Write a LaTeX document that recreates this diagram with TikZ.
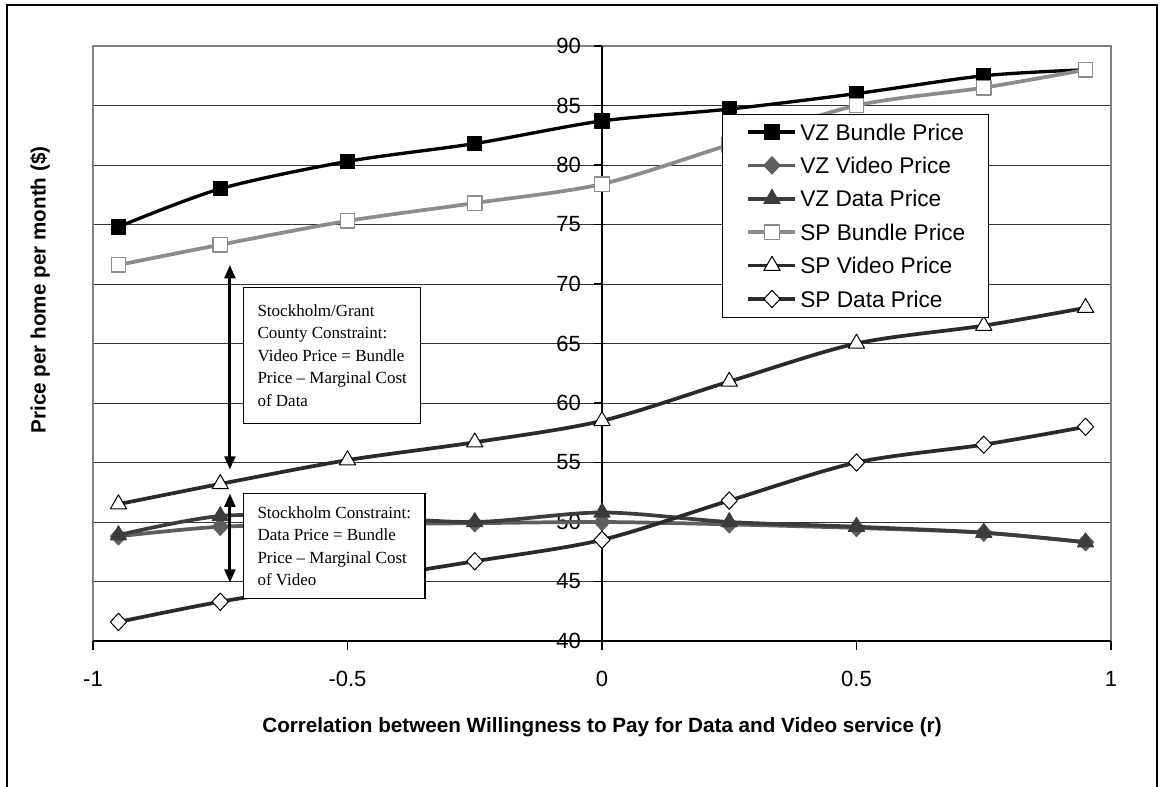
\documentclass[tikz,border=0pt]{standalone}
\usepackage{fontspec}
\setmainfont{Liberation Sans}
\newfontfamily\notefont{Liberation Serif}
\usetikzlibrary{arrows.meta,plotmarks}

\definecolor{vzvideogray}{HTML}{5E5E5E}
\definecolor{vzdatagray}{HTML}{3C3C3C}
\definecolor{spbundlegray}{HTML}{8C8C8C}
\definecolor{spdark}{HTML}{2A2A2A}

\tikzset{
	series/.style={line width=2.8pt, line join=round},
	vzbundle/.style={series, black, line width=2.5pt, mark=square*, mark size=5.4pt, mark options={line width=0.75pt, fill=black}},
	vzvideo/.style={series, vzvideogray, mark=diamond*, mark size=6.5pt, mark options={line width=0.75pt, fill=vzvideogray, xscale=1.25}},
	vzdata/.style={series, vzdatagray, mark=triangle*, mark size=7pt, mark options={line width=0.75pt, fill=vzdatagray}},
	spbundle/.style={series, spbundlegray, mark=square*, mark size=5.4pt, mark options={line width=1pt, fill=white}},
	spvideo/.style={series, spdark, mark=triangle*, mark size=7pt, mark options={line width=0.75pt, draw=black, fill=white}},
	spdata/.style={series, spdark, mark=diamond*, mark size=6.5pt, mark options={line width=0.75pt, draw=black, fill=white, xscale=1.25}},
	gridline/.style={black!80, line width=0.7pt},
	ticklabel/.style={font=\fontsize{16.5}{18}\selectfont, inner sep=0pt},
	keylabel/.style={font=\fontsize{17}{19}\selectfont, anchor=west, inner sep=0pt},
	keybox/.style={draw, fill=white, line width=0.8pt, anchor=north west, minimum width=199.5pt, minimum height=152.25pt},
	notebox/.style={draw, fill=white, line width=0.8pt, anchor=north west, align=left, inner xsep=10.5pt, font=\notefont\fontsize{12.75}{16.9}\selectfont},
	bothway/.style={{Triangle[length=10pt,width=8pt]}-{Triangle[length=10pt,width=8pt]}, line width=2.2pt},
	axistitle/.style={font=\bfseries\fontsize{15.5}{18}\selectfont, inner sep=0pt}
}

\begin{document}
\begin{tikzpicture}[x=0.75pt,y=-0.75pt]
	\useasboundingbox (0,0) rectangle (1160,787);
	\draw[line width=1.5pt] (7,787) -- (7,5) -- (1157,5) -- (1157,787);

	\begin{scope}[shift={(602,1117)},x=381.75pt,y=8.925pt]
		\foreach \v in {45,50,...,85}
			\draw[gridline] (-1,\v) -- (1,\v);
		\draw[gray, line width=0.8pt] (-1,40) rectangle (1,90);
		\draw[line width=0.8pt] (-1,40) -- (1,40);
		\draw[line width=0.8pt] (0,40) -- (0,90);
		\foreach \v in {40,45,...,90}{
			\draw[line width=0.8pt] (0,\v) -- ++(-6pt,0);
			\node[ticklabel, anchor=east] (y\v) at ([xshift=-15.75pt]0,\v) {\v};
		}
		\foreach \u/\t in {-1/-1,-0.5/-0.5,0/0,0.5/0.5,1/1}{
			\draw[line width=0.8pt] (\u,40) -- ++(0,-6.75pt);
			\node[ticklabel, below=22.5pt] (x\t) at (\u,40) {\t};
		}

		\draw[vzbundle] plot[smooth, tension=0.5] coordinates {(-0.95,74.8) (-0.75,78.0) (-0.5,80.3) (-0.25,81.8) (0,83.7) (0.25,84.7) (0.5,86.0) (0.75,87.5) (0.95,88.0)};
		\draw[vzvideo] plot[smooth, tension=0.5] coordinates {(-0.95,48.8) (-0.75,49.6) (-0.5,49.8) (-0.25,49.9) (0,50.0) (0.25,49.8) (0.5,49.5) (0.75,49.1) (0.95,48.3)};
		\draw[vzdata] plot[smooth, tension=0.5] coordinates {(-0.95,48.9) (-0.75,50.5) (-0.5,50.5) (-0.25,50.0) (0,50.8) (0.25,50.0) (0.5,49.6) (0.75,49.1) (0.95,48.3)};
		\draw[spbundle] plot[smooth, tension=0.5] coordinates {(-0.95,71.6) (-0.75,73.3) (-0.5,75.3) (-0.25,76.8) (0,78.4) (0.25,81.7) (0.5,85.0) (0.75,86.5) (0.95,88.0)};
		\draw[spvideo] plot[smooth, tension=0.5] coordinates {(-0.95,51.5) (-0.75,53.2) (-0.5,55.2) (-0.25,56.7) (0,58.5) (0.25,61.8) (0.5,65.0) (0.75,66.5) (0.95,68.0)};
		\draw[spdata] plot[smooth, tension=0.5] coordinates {(-0.95,41.6) (-0.75,43.3) (-0.5,45.0) (-0.25,46.7) (0,48.5) (0.25,51.8) (0.5,55.0) (0.75,56.5) (0.95,58.0)};

		\coordinate (grant top) at (-0.731,71.6);
		\coordinate (grant bot) at (-0.731,54.4);
		\coordinate (stock top) at (-0.731,52.4);
		\coordinate (stock bot) at (-0.731,44.9);
	\end{scope}

	\draw[bothway] (grant top) -- (grant bot);
	\draw[bothway] (stock top) -- (stock bot);

	\node[notebox, minimum height=102pt] (grant) at (243,287) {Stockholm/Grant\\County Constraint:\\Video Price = Bundle\\Price – Marginal Cost\\of Data};
	\node[notebox, minimum height=79pt] (stock) at (243,493) {Stockholm Constraint:\\Data Price = Bundle\\Price – Marginal Cost\\of Video};

	\node[keybox] (key) at (722,114) {};
	\foreach \sty/\txt [count=\i from 0] in {vzbundle/VZ Bundle Price, vzvideo/VZ Video Price, vzdata/VZ Data Price, spbundle/SP Bundle Price, spvideo/SP Video Price, spdata/SP Data Price}{
		\pgfmathsetmacro\ky{132+33.4*\i}
		\draw[\sty, mark indices={2}] plot coordinates {(748,\ky) (772,\ky) (795,\ky)};
		\node[keylabel] (key\i) at (800,\ky) {\txt};
	}

	\node[axistitle] (xtitle) at (602,727) {Correlation between Willingness to Pay for Data and Video service (r)};
	\node[axistitle, rotate=90] (ytitle) at (40,290) {Price per home per month (\$)};
\end{tikzpicture}
\end{document}
